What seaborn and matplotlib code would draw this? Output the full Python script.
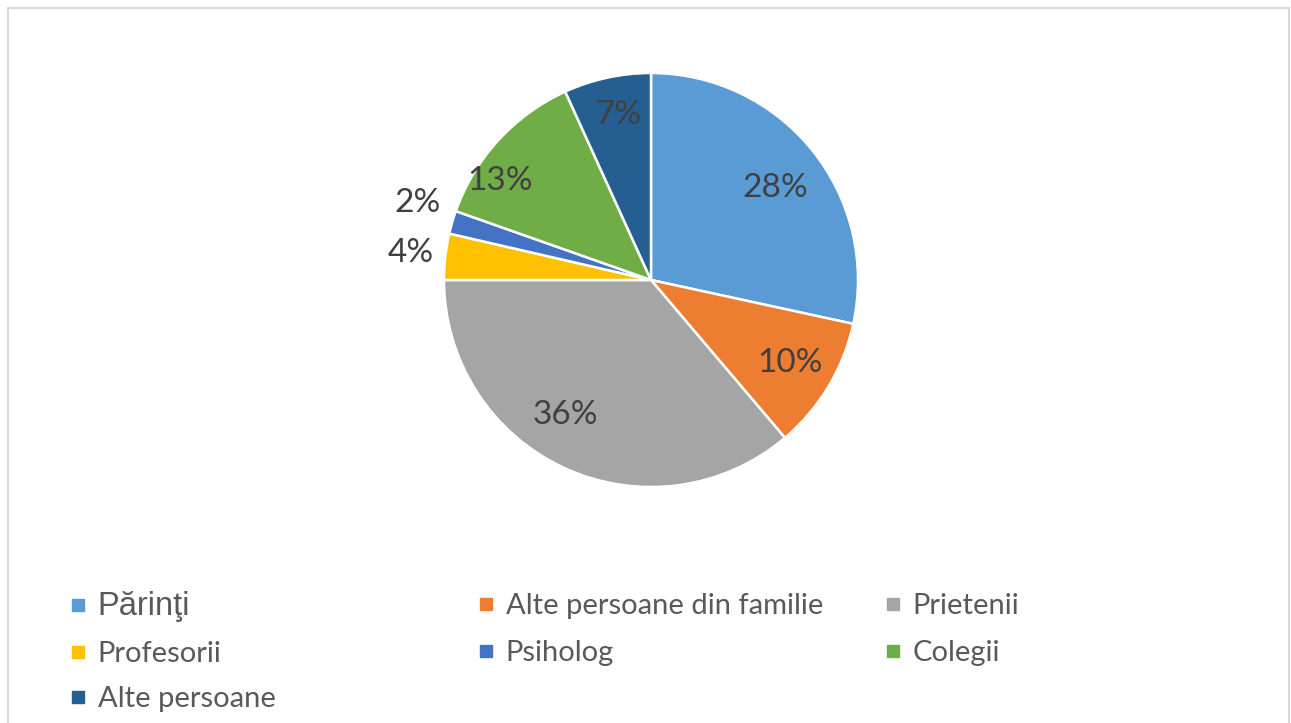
import matplotlib
matplotlib.use("Agg")
import matplotlib.pyplot as plt
import seaborn as sns
import numpy as np
from matplotlib.lines import Line2D
from matplotlib.patches import Rectangle
from matplotlib.font_manager import FontProperties

categories = ["Părinţi", "Alte persoane din familie", "Prietenii", "Profesorii",
              "Psiholog", "Colegii", "Alte persoane"]
values = [28.4, 10.4, 36.2, 3.6, 1.8, 12.8, 6.8]
labels = ["28%", "10%", "36%", "4%", "2%", "13%", "7%"]
colors = ["#5B9BD5", "#ED7D31", "#A5A5A5", "#FFC000", "#4472C4", "#70AD47", "#255E91"]

sns.set_theme(style="white")
plt.rcParams['font.family'] = ['Lato', 'DejaVu Sans']
palette = sns.color_palette(colors)

W, H = 1291, 723
fig = plt.figure(figsize=(W / 100, H / 100), dpi=100)
fig.patch.set_facecolor("white")

# border of chart area
fig.add_artist(Rectangle((8 / W, -0.05), (1289 - 8) / W, 1.05 - 8 / H,
                         transform=fig.transFigure, fill=False,
                         edgecolor="#D9D9D9", linewidth=1.5))

cx, cy, r = 651, 280, 207
ax = fig.add_axes([(cx - r) / W, 1 - (cy + r) / H, 2 * r / W, 2 * r / H])
wedges, _ = ax.pie(values, colors=palette, startangle=90, counterclock=False,
                   wedgeprops=dict(edgecolor="white", linewidth=1.8))
ax.set_xlim(-1, 1)
ax.set_ylim(-1, 1)
ax.set_aspect("equal")
ax.axis("off")

# label placement (distance from centre, angle offset in degrees)
label_dist = [0.755, 0.775, 0.76, 1.17, 1.19, 0.88, 0.827]
label_dang = [-1.4, 1.1, -8.3, -0.6, -2.7, 8.4, -1.1]
for w, lab, d, da in zip(wedges, labels, label_dist, label_dang):
    ang = np.deg2rad((w.theta1 + w.theta2) / 2 + da)
    ax.text(d * np.cos(ang), d * np.sin(ang) - 0.014, lab, ha="center", va="center",
            fontsize=24, color="#404040", family=["Lato", "DejaVu Sans"], clip_on=False)

# legend: three columns, row-major order
handles = [Line2D([], [], marker="s", linestyle="", markersize=8,
                  markerfacecolor=c, markeredgecolor=c) for c in colors]
cols = [[0, 3, 6], [1, 4], [2, 5]]
col_x = [70, 478, 885]
col_top = [591.5, 593.0, 593.0]
col_space = [0.64, 0.72, 0.72]
for ci, idx in enumerate(cols):
    leg = fig.legend([handles[i] for i in idx], [categories[i] for i in idx],
                     loc="upper left", bbox_to_anchor=(col_x[ci] / W, 1 - col_top[ci] / H),
                     frameon=False, fontsize=21, handlelength=0.55,
                     handletextpad=0.4, labelspacing=col_space[ci], borderpad=0,
                     borderaxespad=0)
    for t in leg.get_texts():
        t.set_color("#595959")
    if ci == 0:
        t0 = leg.get_texts()[0]
        t0.set_fontproperties(FontProperties(family=["Liberation Sans", "DejaVu Sans"],
                                             size=23.5))

fig.savefig("out.png", dpi=100, facecolor="white")
